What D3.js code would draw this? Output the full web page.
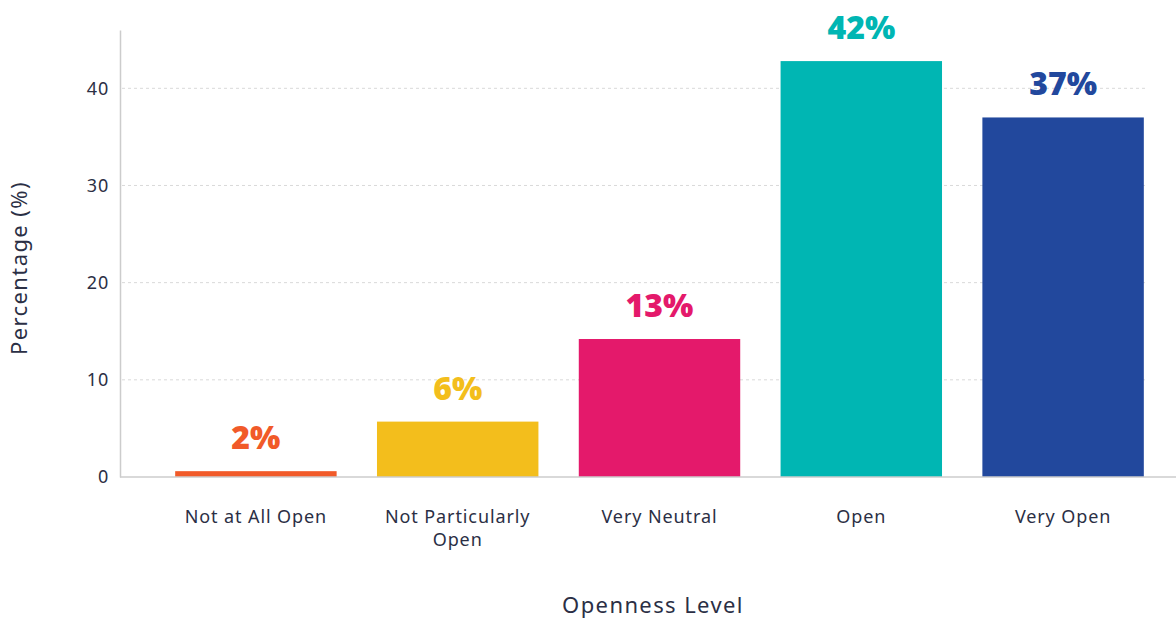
<!DOCTYPE html>
<html>
<head>
<meta charset="utf-8">
<script src="https://cdn.jsdelivr.net/npm/d3@7"></script>
<style>
  body { margin: 0; background: #fff; }
  text { font-family: "Noto Sans", "Open Sans", sans-serif; }
</style>
</head>
<body>
<div id="chart"></div>
<script>
// data
const categories = ["Not at All Open", "Not Particularly Open", "Very Neutral", "Open", "Very Open"];
const values = [0.6, 5.7, 14.2, 42.8, 37.0];
const valueLabels = ["2%", "6%", "13%", "42%", "37%"];
const barColors = ["#F15A29", "#F3BE1C", "#E4196B", "#00B6B3", "#22489D"];
const yTicks = [0, 10, 20, 30, 40];

const width = 1176;
const height = 619;
const textColor = "#2b2f45";

const svg = d3.select("#chart")
  .append("svg")
  .attr("width", width)
  .attr("height", height);

const x = d3.scaleBand()
  .domain(categories)
  .range([155, 1164])
  .paddingInner(0.2)
  .paddingOuter(0.1);

const y = d3.scaleLinear()
  .domain([0, 46])
  .range([477, 30]);

// grid lines
svg.append("g")
  .selectAll("line")
  .data(yTicks.filter(d => d > 0))
  .join("line")
  .attr("x1", 122)
  .attr("x2", 1148)
  .attr("y1", d => y(d))
  .attr("y2", d => y(d))
  .attr("stroke", "#d9d9d9")
  .attr("stroke-dasharray", "3,3");

// y axis
const yAxis = svg.append("g")
  .attr("transform", "translate(120,0)")
  .call(d3.axisLeft(y).tickValues(yTicks).tickSize(0).tickPadding(11));
yAxis.select(".domain").attr("stroke", "#cccccc").attr("stroke-width", 1.5);
yAxis.selectAll("text")
  .style("font-size", "18px")
  .style("letter-spacing", "0.8px")
  .attr("fill", textColor);

// bars
svg.append("g")
  .selectAll("rect")
  .data(values)
  .join("rect")
  .attr("x", (d, i) => x(categories[i]))
  .attr("width", x.bandwidth())
  .attr("y", d => y(d))
  .attr("height", d => y(0) - y(d))
  .attr("fill", (d, i) => barColors[i]);

// baseline
svg.append("line")
  .attr("x1", 120).attr("x2", 1176)
  .attr("y1", y(0)).attr("y2", y(0))
  .attr("stroke", "#cccccc").attr("stroke-width", 1.5);

// wrapped category labels
const labelLines = {
  "Not Particularly Open": ["Not Particularly", "Open"]
};
svg.append("g")
  .selectAll("text")
  .data(categories)
  .join("text")
  .attr("text-anchor", "middle")
  .attr("fill", textColor)
  .style("font-size", "18px")
  .style("letter-spacing", "0.9px")
  .attr("x", d => x(d) + x.bandwidth() / 2)
  .attr("y", 523)
  .each(function (d) {
    const lines = labelLines[d] || [d];
    d3.select(this).selectAll("tspan")
      .data(lines)
      .join("tspan")
      .attr("x", x(d) + x.bandwidth() / 2)
      .attr("dy", (l, i) => i === 0 ? 0 : 23)
      .text(l => l);
  });

// value labels
svg.append("g")
  .selectAll("text")
  .data(values)
  .join("text")
  .attr("text-anchor", "middle")
  .attr("x", (d, i) => x(categories[i]) + x.bandwidth() / 2)
  .attr("y", d => y(d) - 22)
  .attr("fill", (d, i) => barColors[i])
  .style("font-size", "32px")
  .style("font-weight", 900)
  .text((d, i) => valueLabels[i]);

// axis titles
svg.append("text")
  .attr("x", 653)
  .attr("y", 613)
  .attr("text-anchor", "middle")
  .attr("fill", textColor)
  .style("font-size", "22px")
  .style("letter-spacing", "1.4px")
  .text("Openness Level");

svg.append("text")
  .attr("transform", "translate(27,268) rotate(-90)")
  .attr("text-anchor", "middle")
  .attr("fill", textColor)
  .style("font-size", "22px")
  .style("letter-spacing", "1.4px")
  .text("Percentage (%)");
</script>
</body>
</html>
